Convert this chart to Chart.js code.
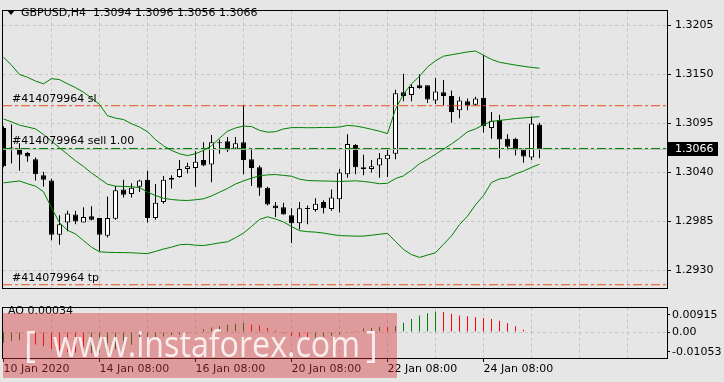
<!DOCTYPE html>
<html><head><meta charset="utf-8">
<script src="https://cdn.jsdelivr.net/npm/chart.js@4.4.1/dist/chart.umd.min.js"></script>
<style>
html,body{margin:0;padding:0;background:#e6e6e6;}
#wrap{position:relative;width:724px;height:382px;overflow:hidden;background:#e6e6e6;}
#c1{position:absolute;left:0;top:0;}
#c2{position:absolute;left:0;top:299px;}
</style></head><body>
<div id="wrap"><canvas id="c1" width="724" height="299"></canvas><canvas id="c2" width="724" height="83"></canvas></div>
<script>
// ---------- DATA ----------
const symbolName = 'GBPUSD,H4';
const opens = [1.3090,1.3068,1.3067,1.3062,1.3055,1.3037,1.3031,1.2970,1.2984,1.2993,
1.2984,1.2991,1.2989,1.2969,1.2988,1.3021,1.3016,1.3024,1.3032,1.2989,
1.3007,1.3034,1.3035,1.3044,1.3045,1.3054,1.3049,1.3074,1.3075,1.3067,
1.3074,1.3055,1.3046,1.3023,1.3003,1.3001,1.2992,1.2983,1.3000,1.2998,
1.3007,1.2999,1.3010,1.3038,1.3071,1.3046,1.3044,1.3048,1.3055,1.3061,
1.3130,1.3127,1.3138,1.3138,1.3121,1.3130,1.3126,1.3110,1.3120,1.3116,
1.3124,1.3090,1.3099,1.3078,1.3078,1.3066,1.3057,1.3094];
const highs = [1.3092,1.3094,1.3073,1.3063,1.3057,1.3041,1.3033,1.2992,1.2997,1.2997,
1.3001,1.3002,1.2989,1.3013,1.3025,1.3032,1.3028,1.3032,1.3042,1.3027,
1.3036,1.3037,1.3054,1.3051,1.3064,1.3074,1.3082,1.3077,1.3080,1.3080,
1.3116,1.3067,1.3048,1.3024,1.3007,1.3006,1.3000,1.3007,1.3003,1.3011,
1.3009,1.3021,1.3044,1.3083,1.3072,1.3060,1.3054,1.3062,1.3067,1.3133,
1.3151,1.3139,1.3150,1.3138,1.3146,1.3144,1.3132,1.3125,1.3123,1.3125,
1.3172,1.3108,1.3105,1.3083,1.3079,1.3067,1.3103,1.3096];
const lows = [1.3046,1.3050,1.3042,1.3052,1.3031,1.3024,1.2964,1.2959,1.2974,1.2982,
1.2984,1.2986,1.2952,1.2967,1.2987,1.3012,1.3012,1.3018,1.2984,1.2987,
1.3005,1.3022,1.3034,1.3039,1.3024,1.3047,1.3029,1.3061,1.3063,1.3066,
1.3038,1.3025,1.3014,1.3003,1.2990,1.2993,1.2961,1.2976,1.2982,1.2996,
1.2994,1.2997,1.2995,1.3034,1.3038,1.3037,1.3040,1.3034,1.3035,1.3055,
1.3120,1.3120,1.3134,1.3118,1.3117,1.3115,1.3096,1.3101,1.3110,1.3115,
1.3085,1.3078,1.3056,1.3065,1.3059,1.3051,1.3054,1.3056];
const closes = [1.3047,1.3067,1.3060,1.3058,1.3038,1.3032,1.2970,1.2982,1.2994,1.2985,
1.2990,1.2987,1.2970,1.2989,1.3020,1.3015,1.3023,1.3031,1.2989,1.3006,
1.3032,1.3032,1.3044,1.3047,1.3052,1.3048,1.3074,1.3073,1.3065,1.3073,
1.3054,1.3045,1.3023,1.3004,1.3000,1.2993,1.2983,1.3000,1.2999,1.3005,
1.3000,1.3012,1.3040,1.3072,1.3046,1.3044,1.3047,1.3056,1.3060,1.3129,
1.3126,1.3136,1.3135,1.3122,1.3131,1.3126,1.3108,1.3121,1.3115,1.3123,
1.3092,1.3098,1.3077,1.3069,1.3065,1.3058,1.3095,1.3066];
const bbUpper = [1.31694,1.31606,1.31501,1.31469,1.31427,1.31396,1.31454,1.31443,1.31396,1.31354,
1.31301,1.31238,1.31164,1.31037,1.31011,1.30995,1.30948,1.30911,1.30858,1.30769,
1.30700,1.30648,1.30611,1.30590,1.30611,1.30648,1.30700,1.30785,1.30864,1.30900,
1.30922,1.30916,1.30874,1.30853,1.30858,1.30890,1.30904,1.30905,1.30903,1.30904,
1.30906,1.30906,1.30911,1.30929,1.30922,1.30906,1.30885,1.30864,1.30837,1.31111,
1.31280,1.31396,1.31480,1.31585,1.31654,1.31706,1.31722,1.31738,1.31754,1.31764,
1.31717,1.31670,1.31638,1.31622,1.31606,1.31593,1.31580,1.31572];
const bbMiddle = [1.31001,1.30969,1.30932,1.30911,1.30890,1.30827,1.30753,1.30679,1.30605,1.30532,
1.30468,1.30395,1.30332,1.30268,1.30247,1.30244,1.30240,1.30231,1.30179,1.30142,
1.30110,1.30097,1.30089,1.30086,1.30094,1.30105,1.30137,1.30179,1.30221,1.30271,
1.30305,1.30337,1.30363,1.30374,1.30377,1.30368,1.30358,1.30326,1.30310,1.30307,
1.30305,1.30303,1.30300,1.30303,1.30307,1.30300,1.30289,1.30274,1.30279,1.30332,
1.30363,1.30426,1.30500,1.30548,1.30605,1.30663,1.30721,1.30785,1.30858,1.30890,
1.30937,1.30974,1.30985,1.30995,1.31006,1.31013,1.31020,1.31027];
const bbLower = [1.30284,1.30295,1.30305,1.30274,1.30247,1.30184,1.30005,1.29836,1.29752,1.29710,
1.29636,1.29562,1.29510,1.29504,1.29502,1.29501,1.29499,1.29494,1.29489,1.29515,
1.29541,1.29562,1.29589,1.29594,1.29584,1.29580,1.29594,1.29610,1.29622,1.29668,
1.29720,1.29794,1.29873,1.29903,1.29878,1.29844,1.29794,1.29747,1.29736,1.29731,
1.29720,1.29705,1.29692,1.29689,1.29686,1.29686,1.29696,1.29707,1.29717,1.29626,
1.29536,1.29478,1.29447,1.29473,1.29499,1.29594,1.29689,1.29815,1.29910,1.30037,
1.30142,1.30289,1.30328,1.30342,1.30384,1.30416,1.30458,1.30493];
const aoValues = [-0.00566,-0.00472,-0.00425,-0.00614,-0.00661,-0.00755,-0.00897,-0.00991,-0.01071,-0.01100,
-0.01194,-0.01133,-0.01086,-0.01038,-0.00920,-0.00835,-0.00675,-0.00439,-0.00363,-0.00283,
-0.00236,-0.00156,-0.00127,-0.00061,0.00033,0.00156,0.00250,0.00316,0.00392,0.00439,
0.00486,0.00411,0.00345,0.00222,0.00080,-0.00071,-0.00203,-0.00250,-0.00307,-0.00293,
-0.00250,-0.00189,-0.00127,-0.00014,0.00061,0.00189,0.00222,0.00269,0.00260,0.00316,
0.00505,0.00694,0.00883,0.01005,0.01100,0.01071,0.00977,0.00883,0.00850,0.00788,
0.00755,0.00694,0.00599,0.00472,0.00316,0.00127,0.00061,0.00034];
const priceTicks = [1.2930, 1.2985, 1.3040, 1.3095, 1.3150, 1.3205];
const aoTicks = [0.00915, 0, -0.01053];
const timeTickIndex = [0, 12, 24, 36, 48, 60];
const timeTickText = ['10 Jan 2020', '14 Jan 08:00', '16 Jan 08:00', '20 Jan 08:00', '22 Jan 08:00', '24 Jan 08:00'];
const orderLevels = [1.3115, 1.3067, 1.2914];
const orderLabels = ['#414079964 sl', '#414079964 sell 1.00', '#414079964 tp'];
const bidPrice = 1.3066;
const watermarkText = 'www.instaforex.com';

// ---------- SETUP ----------
const N = opens.length;
const idx = opens.map((_, i) => i);
const X_MIN = -0.0625, X_MAX = X_MIN + 83;
const P_MIN = 1.29099, P_MAX = 1.32218;
const AO_MIN = -0.01383, AO_MAX = 0.01307;
const gridIdx = []; for (let v = 0; v <= 78; v += 6) gridIdx.push(v);
const GRID = '#c4c4c4';
const FONT = '11px "DejaVu Sans"';
const SL_COLOR = '#e8501e', SELL_COLOR = '#008000';
Chart.defaults.font.family = '"DejaVu Sans", sans-serif';
Chart.defaults.font.size = 11;
Chart.defaults.color = '#000';

const series = arr => arr.map((v, i) => ({x: i, y: v}));
const hline = v => [{x: X_MIN, y: v}, {x: X_MAX, y: v}];
const lineDs = (label, data, color, dash, order) => ({type: 'line', label, data, borderColor: color, borderWidth: 1,
  borderDash: dash, pointRadius: 0, tension: 0, fill: false, order});

function frame(ctx, a) {
  ctx.save(); ctx.strokeStyle = '#000'; ctx.lineWidth = 1; ctx.setLineDash([]);
  const l = Math.round(a.left), t = Math.round(a.top), r = Math.round(a.right), b = Math.round(a.bottom);
  ctx.strokeRect(l - 0.5, t - 0.5, r - l + 1, b - t + 1);
  ctx.restore();
}

const overlay1 = {
  id: 'overlay1',
  afterDraw(chart) {
    const {ctx, chartArea: a, scales: {y}} = chart;
    frame(ctx, a);
    ctx.save();
    ctx.font = FONT; ctx.textBaseline = 'middle'; ctx.fillStyle = '#000';
    // header
    ctx.beginPath(); ctx.moveTo(7, 10); ctx.lineTo(15, 10); ctx.lineTo(11, 15); ctx.closePath(); ctx.fill();
    const L = N - 1;
    const header = symbolName + '  ' + [opens[L], highs[L], lows[L], closes[L]].map(v => v.toFixed(4)).join(' ');
    ctx.fillText(header, 21, 13);
    // order labels
    orderLevels.forEach((lv, k) => {
      ctx.fillText(orderLabels[k], 12, y.getPixelForValue(lv) - 7);
    });
    // current price box
    const py = Math.round(y.getPixelForValue(bidPrice));
    ctx.fillStyle = '#000';
    ctx.fillRect(a.right + 1, py - 7, 50, 14);
    ctx.fillStyle = '#fff';
    ctx.fillText(bidPrice.toFixed(4), a.right + 8, py);
    ctx.restore();
  }
};

new Chart(document.getElementById('c1'), {
  type: 'bar',
  data: {datasets: [
    lineDs('BB upper', series(bbUpper), '#008000', [], 0),
    lineDs('BB middle', series(bbMiddle), '#008000', [], 0),
    lineDs('BB lower', series(bbLower), '#008000', [], 0),
    lineDs('sl', hline(orderLevels[0]), SL_COLOR, [9, 3, 3, 3], 1),
    lineDs('tp', hline(orderLevels[2]), SL_COLOR, [9, 3, 3, 3], 1),
    lineDs('sell', hline(orderLevels[1]), SELL_COLOR, [9, 3, 3, 3], 1),
    lineDs('bid', hline(bidPrice), '#bdbdbd', [], 2),
    {type: 'bar', label: 'body', data: idx.map(i => ({x: i, y: [opens[i], closes[i]]})),
      backgroundColor: idx.map(i => closes[i] > opens[i] ? '#ffffff' : '#000000'),
      borderColor: '#000', borderWidth: 1, borderSkipped: false, barThickness: 5, minBarLength: 1,
      grouped: false, inflateAmount: 0, order: 3},
    {type: 'bar', label: 'wick', data: idx.map(i => ({x: i, y: [lows[i], highs[i]]})),
      backgroundColor: '#000', borderWidth: 0, barThickness: 1, grouped: false, inflateAmount: 0, order: 4}
  ]},
  options: {
    responsive: false, animation: false, events: [],
    layout: {padding: {left: 3, top: 2, right: 0, bottom: 1}},
    plugins: {legend: {display: false}, tooltip: {enabled: false}},
    scales: {
      x: {type: 'linear', min: X_MIN, max: X_MAX, offset: false,
        afterBuildTicks: s => { s.ticks = gridIdx.filter(v => v > 0).map(v => ({value: v})); },
        afterFit: s => { s.height = 0; },
        ticks: {display: false},
        grid: {color: GRID, drawTicks: false, offset: false, lineWidth: 1},
        border: {display: false, dash: [3, 3]}},
      y: {type: 'linear', position: 'right', min: P_MIN, max: P_MAX,
        afterBuildTicks: s => { s.ticks = priceTicks.map(v => ({value: v})); },
        afterFit: s => { s.width = 57; },
        ticks: {padding: 4, autoSkip: false, color: '#000', callback: v => Number(v).toFixed(4)},
        grid: {color: GRID, tickColor: '#000', tickLength: 4, tickBorderDash: [], lineWidth: 1},
        border: {display: false, dash: [3, 3]}}
    }
  },
  plugins: [overlay1]
});

const overlay2 = {
  id: 'overlay2',
  afterDraw(chart) {
    const {ctx, chartArea: a} = chart;
    frame(ctx, a);
    ctx.save();
    ctx.font = FONT; ctx.textBaseline = 'middle'; ctx.fillStyle = '#000';
    ctx.fillText('AO ' + aoValues[N - 1].toFixed(5), 8, 12);
    // watermark
    ctx.fillStyle = 'rgba(215,50,55,0.42)';
    ctx.fillRect(3, 14, 394, 65);
    ctx.fillStyle = 'rgba(255,255,255,0.82)';
    ctx.font = '36px "Open Sans"';
    ctx.textBaseline = 'alphabetic';
    const w = ctx.measureText(watermarkText).width;
    ctx.save(); ctx.translate(53, 58); ctx.scale(307 / w, 1); ctx.fillText(watermarkText, 0, 0); ctx.restore();
    ctx.fillText('[', 24, 58);
    ctx.fillText(']', 366, 58);
    ctx.restore();
  }
};

new Chart(document.getElementById('c2'), {
  type: 'bar',
  data: {datasets: [
    {type: 'bar', label: 'AO', data: series(aoValues),
      backgroundColor: aoValues.map((v, i) => (i === 0 || v > aoValues[i - 1]) ? '#008000' : '#ff0000'),
      borderWidth: 0, barThickness: 1, grouped: false, inflateAmount: 0}
  ]},
  options: {
    responsive: false, animation: false, events: [],
    layout: {padding: {left: 3, top: 2, right: 0, bottom: 0}},
    plugins: {legend: {display: false}, tooltip: {enabled: false}},
    scales: {
      x: {type: 'linear', min: X_MIN, max: X_MAX, offset: false,
        afterBuildTicks: s => { s.ticks = gridIdx.map(v => ({value: v})); },
        afterFit: s => { s.height = 24; },
        ticks: {align: 'start', padding: 1, maxRotation: 0, minRotation: 0, autoSkip: false, color: '#000',
          callback: v => { const k = timeTickIndex.indexOf(v); return k >= 0 ? timeTickText[k] : ''; }},
        grid: {offset: false, lineWidth: 1, tickLength: 4, tickBorderDash: [],
          color: c => (c.tick && c.tick.value === 0) ? 'rgba(0,0,0,0)' : GRID,
          tickColor: c => (c.tick && timeTickIndex.includes(c.tick.value)) ? '#000' : 'rgba(0,0,0,0)'},
        border: {display: false, dash: [3, 3]}},
      y: {type: 'linear', position: 'right', min: AO_MIN, max: AO_MAX,
        afterBuildTicks: s => { s.ticks = aoTicks.map(v => ({value: v})); },
        afterFit: s => { s.width = 57; },
        ticks: {padding: 2, autoSkip: false, color: '#000', callback: v => v === 0 ? '0.00' : Number(v).toFixed(5)},
        grid: {tickColor: '#000', tickLength: 3, tickBorderDash: [], lineWidth: 1,
          color: c => (c.tick && c.tick.value === 0) ? GRID : 'rgba(0,0,0,0)'},
        border: {display: false, dash: [3, 3]}}
    }
  },
  plugins: [overlay2]
});
</script>
</body></html>
